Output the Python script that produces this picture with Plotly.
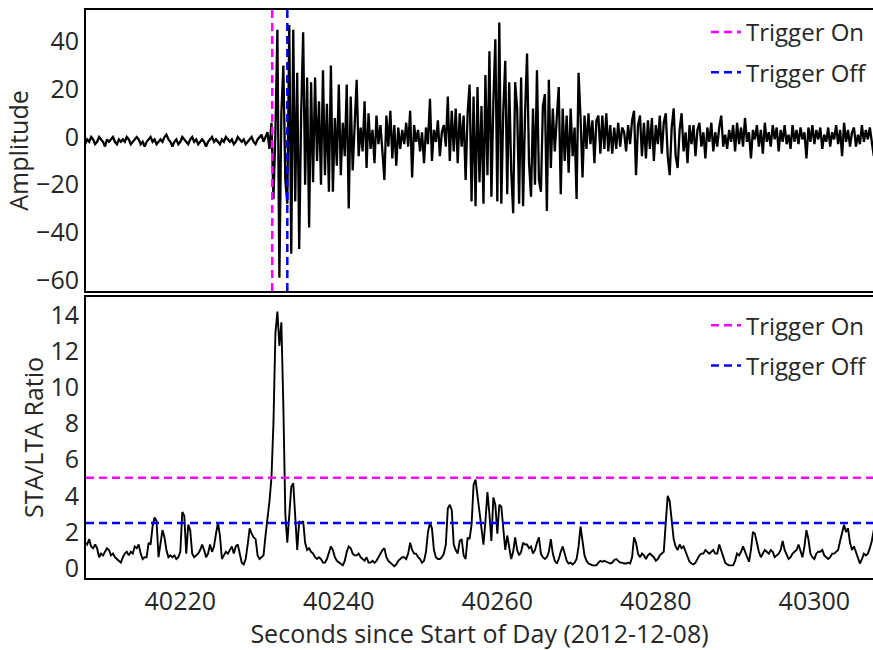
import numpy as np
import plotly.graph_objects as go
from plotly.subplots import make_subplots

# ---- data ----
t0 = 40208.0          # time of first sample (s since start of day)
dt = 0.25             # sample spacing (s)

amplitude = [
    -3, -1, -2, 0, -1, -3, -2, 0, -1, -2, -4, -1, -2, -1, 0, -2, -3, -1, -2, -1,
    -2, 0, -1, -3, -2, -1, 0, -1, -3, -2, -4, -2, -1, 0, -2, -1, -3, -2, -1, -2,
    0, 1, -1, -2, -4, -2, -1, -3, -2, 0, -1, -2, -3, -1, 0, -2, -1, -3, -2, -1,
    -2, -4, -2, -1, 0, -2, -1, -2, -3, -1, -2, 0, -1, -2, -1, -3, -2, 0, -1, -2,
    -1, -3, -2, -1, 0, -2, -3, -1, 0, 1, -2, 0, 2,
    -5, 6, -26, 2, 45, -59, 10, 30, -18, -28, 47, -49, 45, -27, 27, -47, 10, 44, -20, 25,
    -38, 23, -19, 25, -10, 15, -20, 28, -16, 14, -23, 30, -23, 8, -12, 22, -16, 6, -8, 22,
    -30, 17, -14, 8, 24, -8, 4, -6, 15, -13, 10, -5, 3, -11, 9, -3, 5, -6, -18, 9,
    -4, 11, -9, 5, -12, 4, -5, 3, -3, 6, -4, 11, -17, 5, -2, 3, -6, 2, -11, 4,
    -3, 16, -10, 3, -2, 7, -8, 2, 5, -4, 17, -10, 11, -6, 12, -11, 10, -4, 9, -18,
    10, 22, -27, 17, -29, 21, -19, 13, -28, 26, -16, 36, -25, 15, 41, -27, 48, -28, 11, 32,
    -24, 23, -14, -32, 23, 12, -28, 25, -29, 10, 35, -11, -25, 12, -20, 28, -18, -23, 13, 18,
    -31, 24, -13, 12, -6, 8, 21, -24, 12, -10, 9, -15, 12, -8, 4, -26, 27, 8, -17, 9,
    -5, 10, -3, 7, -11, 7, 9, -7, 9, -5, 10, -6, 5, -7, 4, -5, 6, -4, 4, 2,
    -6, 5, -3, 7, 11, -16, 5, 9, -8, 6, -9, 7, -5, 8, -10, 5, -3, 9, -7, 6,
    10, -8, -16, 4, 12, -8, -13, 3, 10, -6, 2, -11, 5, -3, 5, -8, 3, 6, -4, 2,
    -9, 4, -2, 6, -6, 2, -4, 4, 9, -4, 1, -5, 3, -2, 5, -6, 6, -3, 4, -4,
    8, -2, 2, -9, 3, -1, 5, -4, 3, -7, 6, -2, 2, -4, 5, -1, 4, -6, 3, -2,
    5, -3, 1, -5, 5, -2, 3, -3, 4, -1, 2, -9, 4, -2, 5, -3, 3, -1, 4, -5,
    1, -2, 4, -4, 2, -1, 5, -3, 3, -8, 6, -2, 3, -4, 2, 4, -4, 1, -3, 5,
    -2, 3, -1, 4, -3, -8, -6,
]

sta_lta = [
    1.4, 1.3, 1.6, 1.2, 1.1, 1.3, 1.1, 0.6, 0.8, 0.7, 0.9, 1.1, 1.0, 0.7, 0.8, 0.6, 0.5, 0.4, 0.3, 0.6,
    0.8, 0.9, 0.7, 0.9, 0.8, 1.2, 1.1, 1.3, 0.8, 0.5, 0.6, 0.6, 1.4, 1.3, 2.3, 2.8, 2.6, 0.6, 1.5, 2.1,
    1.7, 1.0, 0.6, 0.7, 0.6, 0.7, 0.5, 0.6, 0.9, 3.1, 2.9, 0.8, 2.4, 2.1, 0.8, 0.6, 0.7, 0.8, 1.0, 1.3,
    1.0, 0.6, 0.8, 1.3, 0.9, 1.2, 1.9, 2.5, 1.8, 0.5, 0.7, 0.9, 0.8, 1.0, 1.2, 0.8, 1.2, 1.3, 0.8, 0.3,
    0.2, 0.5, 1.3, 2.2, 1.9, 1.7, 1.6, 0.7, 0.5, 0.6, 0.7, 1.8, 2.6, 3.7, 5.0, 8.0, 13.0, 14.2, 12.3, 13.6,
    9.0, 3.0, 1.4, 3.3, 4.5, 4.7, 2.8, 1.0, 2.6, 2.5, 2.6, 1.4, 1.0, 1.1, 0.9, 0.8, 0.6, 0.5, 0.6, 0.5,
    0.3, 0.3, 0.5, 0.8, 1.2, 1.0, 0.6, 0.4, 0.3, 0.2, 0.15, 0.4, 0.9, 1.2, 1.1, 0.8, 0.7, 0.7, 0.8, 0.6,
    0.5, 0.4, 0.6, 0.3, 0.3, 0.4, 0.3, 0.4, 0.6, 0.8, 1.0, 1.1, 0.6, 0.4, 0.3, 0.2, 0.1, 0.2, 0.4, 0.5,
    0.6, 0.6, 0.5, 0.8, 1.4, 1.0, 0.8, 0.8, 0.6, 0.5, 0.3, 0.4, 0.9, 2.0, 2.5, 2.2, 1.0, 0.6, 0.5, 0.5,
    0.6, 0.8, 1.3, 3.3, 3.5, 3.2, 1.3, 1.0, 0.8, 1.5, 1.6, 0.7, 0.5, 1.7, 1.6, 2.4, 4.6, 4.9, 4.0, 3.3,
    2.4, 1.3, 2.6, 4.2, 3.0, 1.5, 3.9, 3.5, 1.9, 3.5, 3.4, 2.3, 1.0, 1.8, 1.1, 0.5, 0.9, 1.7, 1.0, 0.7,
    0.9, 1.4, 1.3, 1.3, 1.1, 1.2, 0.8, 1.0, 1.4, 1.7, 0.8, 0.6, 0.5, 0.6, 0.9, 1.6, 0.8, 0.4, 0.25, 0.5,
    0.9, 1.2, 0.8, 0.4, 0.25, 0.3, 0.2, 0.3, 0.5, 1.2, 2.3, 1.5, 0.7, 0.4, 0.25, 0.2, 0.15, 0.15, 0.15, 0.3,
    0.4, 0.35, 0.4, 0.35, 0.3, 0.25, 0.3, 0.45, 0.5, 0.4, 0.3, 0.3, 0.25, 0.25, 0.3, 0.25, 0.6, 1.7, 1.4, 0.8,
    0.6, 0.8, 0.7, 0.5, 0.7, 0.8, 0.7, 0.6, 0.4, 0.5, 0.7, 0.8, 0.9, 2.5, 4.0, 3.7, 2.7, 1.6, 1.2, 1.0,
    1.3, 1.1, 1.2, 0.9, 0.6, 0.35, 0.25, 0.2, 0.3, 0.5, 0.7, 0.8, 0.8, 1.0, 0.9, 0.8, 0.9, 1.0, 0.8, 0.8,
    1.3, 1.0, 0.6, 0.3, 0.2, 0.15, 0.15, 0.15, 0.4, 0.8, 0.7, 0.9, 1.2, 0.9, 0.7, 0.35, 1.0, 2.0, 1.9, 1.3,
    0.9, 0.6, 0.8, 1.0, 0.9, 0.8, 1.0, 0.9, 0.6, 0.7, 0.8, 1.0, 1.5, 1.0, 0.7, 0.5, 0.6, 0.8, 0.9, 1.0,
    1.3, 0.9, 0.6, 1.2, 2.1, 1.6, 0.8, 0.6, 0.5, 0.8, 0.9, 0.9, 1.0, 0.7, 0.6, 0.5, 0.6, 0.8, 0.8, 0.9,
    1.0, 1.5, 1.9, 2.4, 2.0, 2.2, 1.4, 1.0, 1.2, 0.9, 0.6, 0.25, 0.5, 0.8, 0.7, 0.8, 1.1, 1.5, 2.1, 2.2,
]

trigger_on_time = 40231.6
trigger_off_time = 40233.5
threshold_on = 5.0
threshold_off = 2.5

x_tick_labels = ["40220", "40240", "40260", "40280", "40300"]

# ---- derived ----
t_amp = t0 + dt * np.arange(len(amplitude))
t_cft = t0 + dt * np.arange(len(sta_lta))

x_range = [40208.1, 40307.4]
y1_range = [-64.6, 53.3]
y2_range = [-0.55, 15.0]

FONT = "Open Sans"
TXT = "#262626"
MAG = "#FF00FF"
BLU = "#0000FF"
DASH = "8px,5px"

fig = make_subplots(rows=2, cols=1, shared_xaxes=True, vertical_spacing=0.0106)

fig.add_trace(go.Scatter(x=t_amp, y=amplitude, mode="lines",
                         line=dict(color="black", width=2.3), showlegend=False,
                         hoverinfo="skip"), row=1, col=1)
fig.add_trace(go.Scatter(x=[trigger_on_time, trigger_on_time], y=y1_range, mode="lines",
                         line=dict(color=MAG, width=2.5, dash=DASH), name="Trigger On",
                         legend="legend", legendgroup="a"), row=1, col=1)
fig.add_trace(go.Scatter(x=[trigger_off_time, trigger_off_time], y=y1_range, mode="lines",
                         line=dict(color=BLU, width=2.5, dash=DASH), name="Trigger Off",
                         legend="legend", legendgroup="b"), row=1, col=1)

fig.add_trace(go.Scatter(x=t_cft, y=sta_lta, mode="lines",
                         line=dict(color="black", width=1.9), showlegend=False,
                         hoverinfo="skip"), row=2, col=1)
fig.add_trace(go.Scatter(x=[x_range[0], x_range[1]], y=[threshold_on, threshold_on], mode="lines",
                         line=dict(color=MAG, width=2.5, dash=DASH), name="Trigger On",
                         legend="legend2", legendgroup="c"), row=2, col=1)
fig.add_trace(go.Scatter(x=[x_range[0], x_range[1]], y=[threshold_off, threshold_off], mode="lines",
                         line=dict(color=BLU, width=2.5, dash=DASH), name="Trigger Off",
                         legend="legend2", legendgroup="d"), row=2, col=1)

axis_common = dict(showgrid=False, zeroline=False, showline=True, linecolor="black",
                   linewidth=2, ticks="", tickfont=dict(family=FONT, size=25, color=TXT))

fig.update_xaxes(range=x_range, mirror=True, **axis_common)
fig.update_xaxes(showticklabels=False, row=1, col=1)
fig.update_xaxes(tickvals=[float(v) for v in x_tick_labels], ticktext=x_tick_labels,
                 title=dict(text="Seconds since Start of Day (2012-12-08)",
                            font=dict(family=FONT, size=25, color=TXT), standoff=8),
                 row=2, col=1)
fig.update_yaxes(mirror=False, **axis_common)
fig.update_yaxes(range=y1_range, tickvals=[-60, -40, -20, 0, 20, 40],
                 title=dict(text="Amplitude", font=dict(family=FONT, size=25, color=TXT), standoff=0),
                 row=1, col=1)
fig.update_yaxes(range=y2_range, tickvals=[0, 2, 4, 6, 8, 10, 12, 14],
                 title=dict(text="STA/LTA Ratio", font=dict(family=FONT, size=25, color=TXT), standoff=0),
                 row=2, col=1)

leg_common = dict(xanchor="right", yanchor="top", bgcolor="rgba(0,0,0,0)",
                  font=dict(family=FONT, size=24, color=TXT), itemwidth=30,
                  tracegroupgap=6)
fig.update_layout(
    width=873, height=650,
    margin=dict(l=86, r=0, t=10, b=72),
    plot_bgcolor="white", paper_bgcolor="white",
    legend=dict(x=1.0, y=1.0, **leg_common),
    legend2=dict(x=1.0, y=0.484, **leg_common),
)

fig.write_html("out.html")
